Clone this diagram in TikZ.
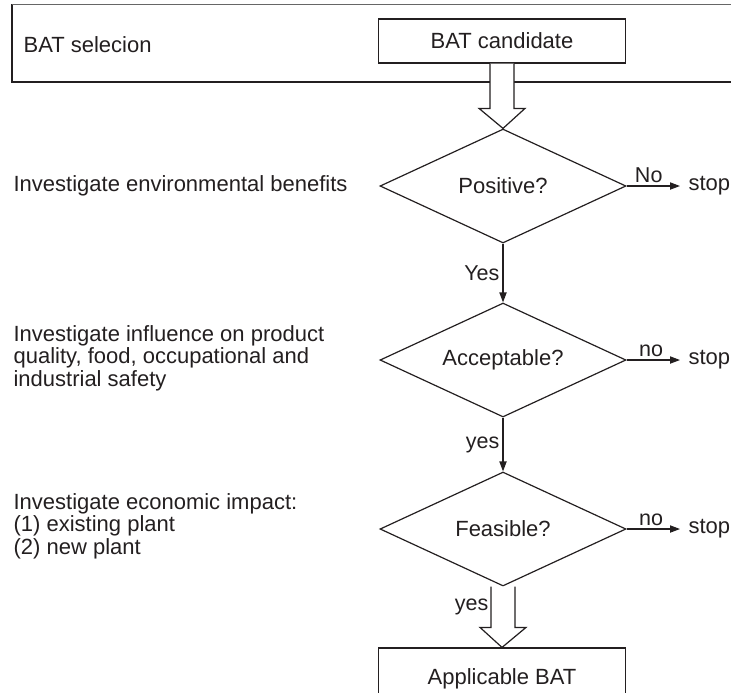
\documentclass[tikz,border=0pt]{standalone}
\usepackage{fontspec}
\setmainfont{Liberation Sans}
\usetikzlibrary{arrows.meta,shapes.geometric,calc}

\definecolor{ink}{HTML}{231F20}

\tikzset{
  box/.style={draw=ink, minimum width=123.5pt, inner sep=0pt},
  decision/.style={draw=ink, diamond, aspect=2.16, minimum width=123pt,
    minimum height=57pt, inner sep=0pt},
  step text/.style={anchor=west, align=left, inner sep=0pt},
  exit/.style={anchor=west, inner sep=0pt},
  answer/.style={inner sep=1.5pt, font=\fontsize{10.75}{12}\selectfont}
}

% hollow block arrow from #1 (top) down to #2 (tip)
\newcommand{\fatarrow}[2]{%
  \draw[ink, fill=white] let \p1=(#1), \p2=(#2) in
    (\x1-6pt,\y1) -- (\x1-6pt,\y2+10pt) -- (\x1-11.5pt,\y2+10pt) -- (\x2,\y2)
    -- (\x1+11.5pt,\y2+10pt) -- (\x1+6pt,\y2+10pt) -- (\x1+6pt,\y1);}

\begin{document}
\begin{tikzpicture}[x=0.5pt, y=-0.5pt, >={Triangle[length=5pt,width=3.6pt]},
    line width=0.6pt, ink, font=\fontsize{11}{11.3}\selectfont]
    \useasboundingbox (0,0) rectangle (731,692);
    \clip (0,0) rectangle (731,692);

    % selection frame
    \draw[ink] (12,4.5) rectangle (760,82);
    \draw[black!60, line width=0.75pt] (12,4.5) -- (760,4.5);
    \node[step text] (sel) at (23,45) {BAT selecion};
    \node[box, minimum height=22pt] (cand) at (502,41) {BAT candidate};

    % decisions
    \node[decision] (pos) at (503,186) {Positive?};
    \node[decision] (acc) at (503,360) {Acceptable?};
    \node[decision] (fea) at (503,529) {Feasible?};

    % result (runs off the bottom of the page)
    \node[box, minimum height=34pt] (app) at (502,682)
        {\raisebox{5.5pt}{Applicable BAT}};

    % what is checked at each step
    \node[step text] (env) at (13,186) {Investigate environmental benefits};
    \node[step text] (qual) at (13,358) {Investigate influence on product\\
        quality, food, occupational and\\ industrial safety};
    \node[step text] (eco) at (13,526) {Investigate economic impact:\\
        (1) existing plant\\ (2) new plant};

    % stop exits
    \node[exit] (stop1) at (688,186) {stop};
    \node[exit] (stop2) at (688,360) {stop};
    \node[exit] (stop3) at (688,529) {stop};

    \draw[->, shorten >=4pt] (pos.east) -- (stop1.west)
        node[answer, pos=0.36, above] {No};
    \draw[->, shorten >=4pt] (acc.east) -- (stop2.west)
        node[answer, pos=0.4, above] {no};
    \draw[->, shorten >=4pt] (fea.east) -- (stop3.west)
        node[answer, pos=0.4, above] {no};

    % yes paths
    \draw[->] (pos.south) -- (acc.north) node[answer, midway, left] {Yes};
    \draw[->] (acc.south) -- (fea.north) node[answer, midway, left] {yes};

    % block arrows
    \fatarrow{cand.south}{pos.north}
    \fatarrow{fea.south}{app.north}
    \node[answer, anchor=east] (yes3) at (492,607) {yes};
\end{tikzpicture}
\end{document}
